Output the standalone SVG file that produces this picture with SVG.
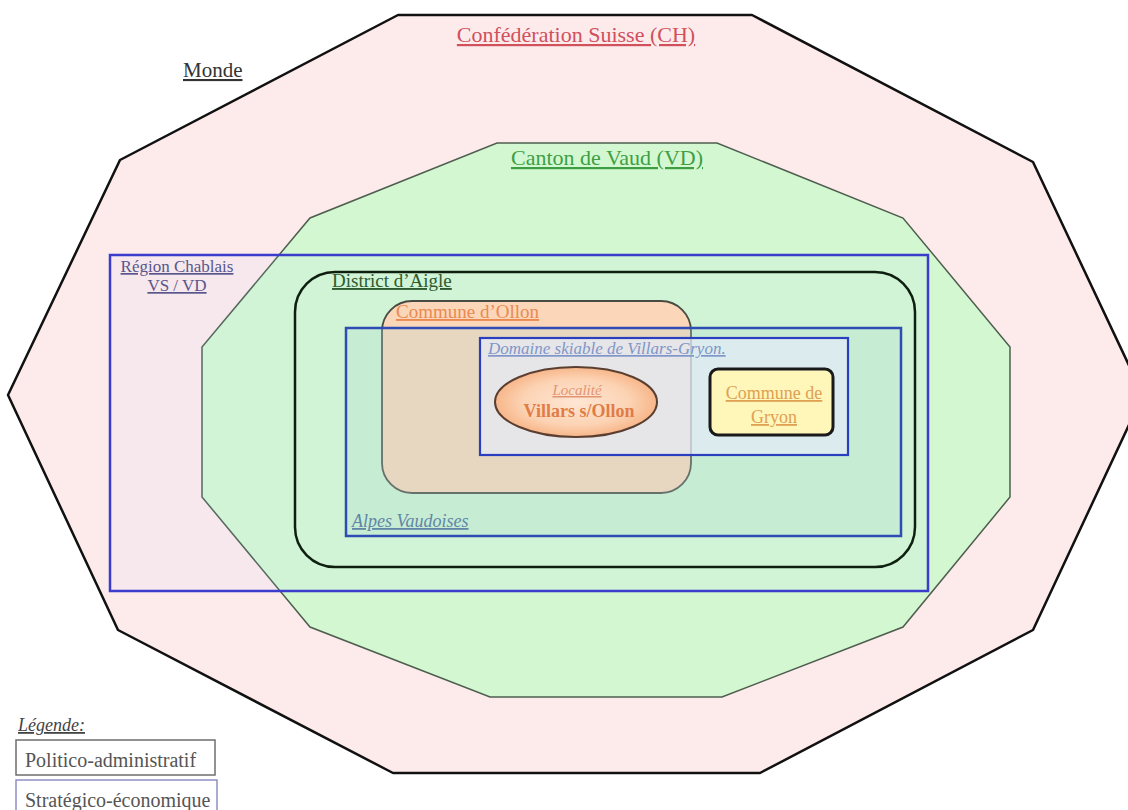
<svg xmlns="http://www.w3.org/2000/svg" width="1128" height="810" viewBox="0 0 1128 810">
<style>
text{font-family:"Liberation Serif","Times New Roman",serif;text-decoration:underline;}
.it{font-style:italic;}
</style>
<defs>
<radialGradient id="gLoc" cx="50%" cy="50%" r="55%">
<stop offset="0" stop-color="#fee6d4"/>
<stop offset="0.6" stop-color="#fcd3b4"/>
<stop offset="1" stop-color="#f6ad7c"/>
</radialGradient>
</defs>
<rect width="1128" height="810" fill="#ffffff"/>
<g id="monde">
<text x="183" y="77" font-size="21" fill="#333333">Monde</text>
</g>
<g id="suisse">
<polygon points="398,15 752,15 1033,162 1143,395 1033,630 760,773 393,773 118,630 8,395 120,160" fill="#fdebec" stroke="#111111" stroke-width="2.5" stroke-linejoin="round"/>
<text x="576" y="42" font-size="22" fill="#d0505c" text-anchor="middle">Confédération Suisse (CH)</text>
</g>
<g id="vaud">
<polygon points="497,143 717,143 903,218 1010,347 1010,497 903,627 722,697 490,697 310,627 202,497 202,347 310,218" fill="#d3f8d1" stroke="#4e5e4e" stroke-width="1.5"/>
<text x="607" y="165" font-size="22" fill="#3f9e44" text-anchor="middle">Canton de Vaud (VD)</text>
</g>
<g id="chablais">
<rect x="110" y="255" width="818" height="336" fill="#b4d0ff" fill-opacity="0.09" stroke="#3b3bcc" stroke-width="2.5"/>
<text x="177" y="272" font-size="17" fill="#5a568c" text-anchor="middle">Région Chablais</text>
<text x="177" y="291" font-size="17" fill="#5a568c" text-anchor="middle">VS / VD</text>
</g>
<g id="aigle">
<rect x="295" y="272" width="620" height="295" rx="40" fill="none" stroke="#0f1f0f" stroke-width="2.5"/>
<text x="332" y="287" font-size="19" fill="#2e5a30">District d’Aigle</text>
</g>
<g id="ollon">
<rect x="382" y="301" width="309" height="192" rx="30" fill="#fcd6b9" stroke="#4a4a44" stroke-width="1.8"/>
<text x="396" y="318" font-size="19" fill="#e98a52">Commune d’Ollon</text>
</g>
<g id="alpes">
<rect x="346" y="328" width="555" height="208" fill="#b0d8d4" fill-opacity="0.28" stroke="#2f4cb4" stroke-width="2.5"/>
<text x="352" y="527" font-size="18" class="it" fill="#5f86a6">Alpes Vaudoises</text>
</g>
<g id="domaine">
<rect x="480" y="338" width="368" height="117" fill="#e6ebf9" fill-opacity="0.7" stroke="#2a3fbf" stroke-width="2.2"/>
<text x="488" y="354" font-size="17" class="it" fill="#7f96c8">Domaine skiable de Villars-Gryon.</text>
</g>
<g id="villars">
<ellipse cx="576" cy="402" rx="81" ry="35" fill="url(#gLoc)" stroke="#5a3e30" stroke-width="2"/>
<text x="577" y="395" font-size="15" class="it" fill="#e29472" text-anchor="middle">Localité</text>
<text x="579" y="417" font-size="18" font-weight="bold" fill="#e07c46" text-anchor="middle" style="text-decoration:none">Villars s/Ollon</text>
</g>
<g id="gryon">
<rect x="710" y="369" width="123" height="66" rx="8" fill="#fff6ba" stroke="#1a1a1a" stroke-width="3"/>
<text x="774" y="399" font-size="18" fill="#e0a052" text-anchor="middle">Commune de</text>
<text x="774" y="423" font-size="18" fill="#e0a052" text-anchor="middle">Gryon</text>
</g>
<g id="connectors"></g>
<g id="legende">
<text x="18" y="731" font-size="18" class="it" fill="#444444">Légende:</text>
<rect x="16" y="740" width="199" height="35" fill="#ffffff" stroke="#6e6e6e" stroke-width="1.5"/>
<text x="25" y="767" font-size="20" fill="#555555" style="text-decoration:none">Politico-administratif</text>
<rect x="16" y="780" width="201" height="40" fill="#ffffff" stroke="#8e8ec4" stroke-width="1.5"/>
<text x="25" y="807" font-size="20" fill="#555555" style="text-decoration:none">Stratégico-économique</text>
</g>
</svg>
